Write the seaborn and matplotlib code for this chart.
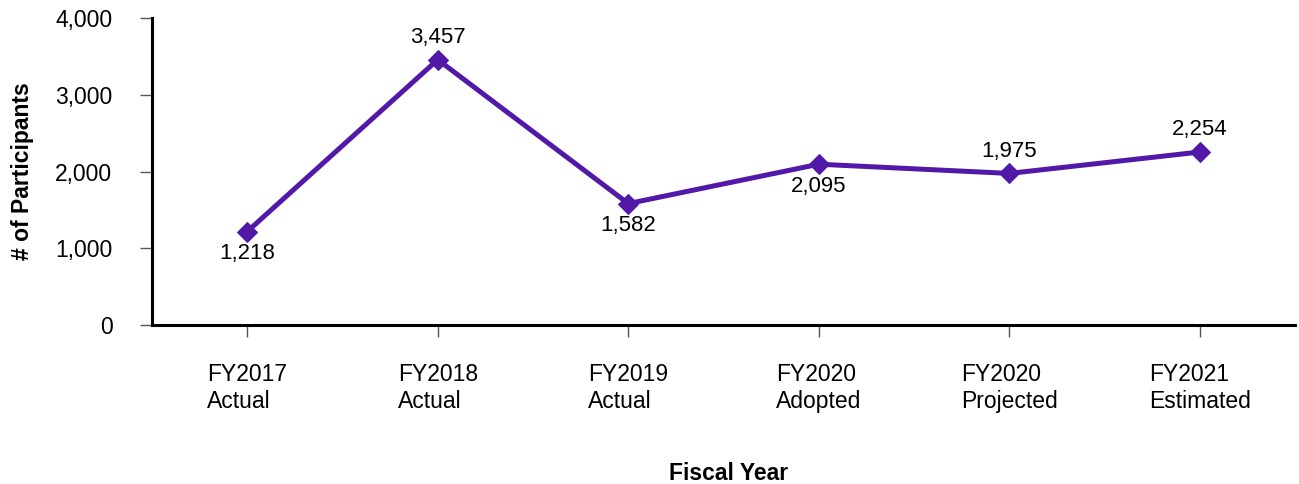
import matplotlib
matplotlib.use("Agg")
import matplotlib.pyplot as plt
import seaborn as sns
import pandas as pd

years = ["FY2017\nActual", "FY2018\nActual", "FY2019\nActual",
         "FY2020\nAdopted", "FY2020\nProjected", "FY2021\nEstimated"]
participants = [1218, 3457, 1582, 2095, 1975, 2254]
label_side = ["below", "above", "below", "below", "above", "above"]

sns.set_style("white")
plt.rcParams["font.family"] = ["Liberation Sans", "DejaVu Sans"]
plt.rcParams["text.color"] = "black"
plt.rcParams["xtick.labelcolor"] = "black"
plt.rcParams["ytick.labelcolor"] = "black"
plt.rcParams["axes.labelcolor"] = "black"

df = pd.DataFrame({"year": years, "participants": participants})

fig = plt.figure(figsize=(12.99, 4.84), dpi=100)
ax = fig.add_axes([0.117, 0.3285, 0.880, 0.6343])

color = "#5218A8"
sns.lineplot(data=df, x="year", y="participants", sort=False, ax=ax,
             color=color, linewidth=3.6, marker="D", markersize=10.5,
             markeredgecolor=color)

for i, (v, side) in enumerate(zip(participants, label_side)):
    dy = 16 if side == "above" else -16
    ax.annotate(f"{v:,}", (i, v), xytext=(0, dy), textcoords="offset points",
                ha="center", va="center", fontsize=16, color="black")

ax.set_xlim(-0.5, 5.5)
ax.set_ylim(0, 4000)
ax.set_yticks([0, 1000, 2000, 3000, 4000])
ax.yaxis.set_major_formatter(matplotlib.ticker.FuncFormatter(lambda v, p: f"{int(v):,}"))

for s in ["top", "right"]:
    ax.spines[s].set_visible(False)
for s in ["left", "bottom"]:
    ax.spines[s].set_color("black")
    ax.spines[s].set_linewidth(2.2)

ax.tick_params(axis="y", left=True, direction="out", length=8.5, width=1,
               color="#555555", pad=20, labelsize=16.5)
ax.tick_params(axis="x", bottom=True, direction="out", length=8.5, width=1,
               color="#555555", pad=19, labelsize=16.5)
for lbl in ax.get_xticklabels():
    lbl.set_multialignment("left")

ax.set_xlabel("Fiscal Year", fontsize=16.5, fontweight="bold", va="center")
ax.set_ylabel("# of Participants", fontsize=16.5, fontweight="bold", va="center")
ax.xaxis.set_label_coords(0.504, -0.484)
ax.yaxis.set_label_coords(-0.113, 0.5)

plt.savefig("out.png", dpi=100)
